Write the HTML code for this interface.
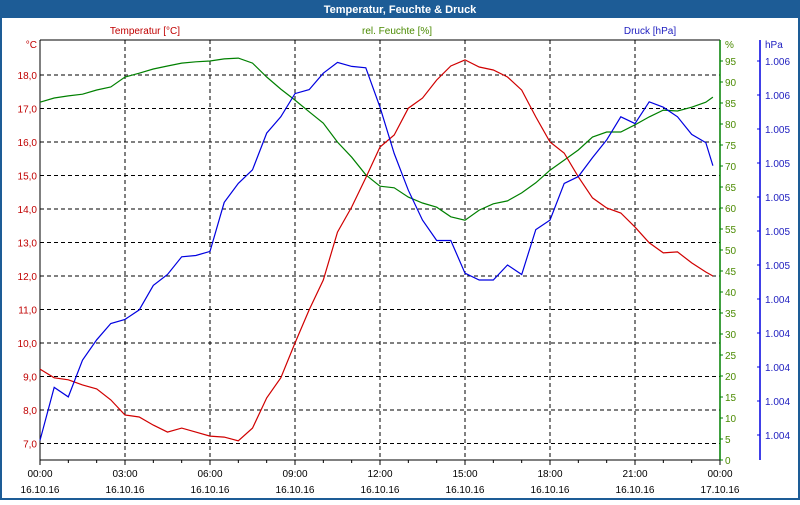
<!DOCTYPE html>
<html><head><meta charset="utf-8"><style>
body{margin:0;width:800px;height:500px;overflow:hidden;background:#fff;font-family:"Liberation Sans",sans-serif}
svg text{font-family:"Liberation Sans",sans-serif;font-size:10px}
</style></head><body>
<svg id="chart" width="800" height="500" xmlns="http://www.w3.org/2000/svg">
<rect x="0" y="0" width="800" height="500" fill="#1d5c96"/>
<rect x="2" y="18" width="796" height="480" fill="#fff"/>
<text x="400" y="13" text-anchor="middle" fill="#fff" font-weight="bold" style="font-size:11px">Temperatur, Feuchte &amp; Druck</text>
<text x="145" y="34" text-anchor="middle" fill="#c00000">Temperatur [°C]</text>
<text x="397" y="34" text-anchor="middle" fill="#4a8a00">rel. Feuchte [%]</text>
<text x="650" y="34" text-anchor="middle" fill="#2020c0">Druck [hPa]</text>
<g id="grid"></g>
<g id="axes"></g>
<g id="series"></g>
</svg>
<script>
const times=[0,0.5,1,1.5,2,2.5,3,3.5,4,4.5,5,5.5,6,6.5,7,7.5,8,8.5,9,9.5,10,10.5,11,11.5,12,12.5,13,13.5,14,14.5,15,15.5,16,16.5,17,17.5,18,18.5,19,19.5,20,20.5,21,21.5,22,22.5,23,23.5,23.75];
const temperature=[9.22,8.96,8.9,8.75,8.63,8.3,7.85,7.79,7.55,7.34,7.46,7.34,7.22,7.19,7.08,7.46,8.36,8.96,10.0,10.99,11.88,13.31,14.06,14.93,15.85,16.21,17.01,17.31,17.85,18.27,18.45,18.24,18.15,17.94,17.55,16.75,16.0,15.67,14.96,14.33,14.03,13.88,13.46,12.99,12.69,12.72,12.39,12.12,12.0];
const humidity=[85.2,86.2,86.7,87.1,88.1,88.8,91.2,92.1,93.1,93.8,94.5,94.8,95.0,95.5,95.7,94.5,91.2,88.3,85.7,82.9,80.2,75.7,72.1,67.9,65.2,64.8,62.6,61.2,60.2,57.9,57.1,59.5,61.0,61.7,63.6,66.0,69.0,71.4,73.8,76.9,78.1,78.1,79.8,81.7,83.3,83.1,84.0,85.2,86.4];
const pressure=[1003.41,1003.80,1003.73,1004.00,1004.15,1004.27,1004.30,1004.37,1004.55,1004.63,1004.76,1004.77,1004.80,1005.16,1005.30,1005.40,1005.67,1005.79,1005.96,1005.99,1006.11,1006.19,1006.16,1006.15,1005.86,1005.52,1005.25,1005.03,1004.88,1004.88,1004.64,1004.59,1004.59,1004.70,1004.63,1004.96,1005.03,1005.30,1005.35,1005.49,1005.62,1005.79,1005.74,1005.90,1005.86,1005.79,1005.66,1005.60,1005.43];
const tempTicks=[18,17,16,15,14,13,12,11,10,9,8,7];
const humTicks=[95,90,85,80,75,70,65,60,55,50,45,40,35,30,25,20,15,10,5,0];
const pressTicks=[1006.2,1005.95,1005.7,1005.45,1005.2,1004.95,1004.7,1004.45,1004.2,1003.95,1003.7,1003.45];
const pressLabels=["1.006","1.006","1.005","1.005","1.005","1.005","1.005","1.004","1.004","1.004","1.004","1.004"];
const xTickHours=[0,3,6,9,12,15,18,21,24];
const xTimeLabels=["00:00","03:00","06:00","09:00","12:00","15:00","18:00","21:00","00:00"];
const xDateLabels=["16.10.16","16.10.16","16.10.16","16.10.16","16.10.16","16.10.16","16.10.16","16.10.16","17.10.16"];

const L=40,R=720,T=40,B=460;
const xS=h=>L+h*(R-L)/24;
const yT=t=>75+(18-t)*33.5;
const yH=h=>B-h*(B-T)/100;
const yP=p=>61+(1006.2-p)*136;
const NS="http://www.w3.org/2000/svg";
function mk(tag,parent,attrs){const e=document.createElementNS(NS,tag);for(const k in attrs)e.setAttribute(k,attrs[k]);parent.appendChild(e);return e;}
const grid=document.getElementById('grid'),axes=document.getElementById('axes'),ser=document.getElementById('series');

tempTicks.forEach(t=>{
  const g=mk('line',grid,{x1:L,x2:R,y1:yT(t),y2:yT(t),stroke:'#000','stroke-dasharray':'4,3'});
  
  
  const l=mk('text',axes,{x:37,y:yT(t)+4,'text-anchor':'end',fill:'#c00000'});l.textContent=t.toFixed(1).replace('.',',');
  
  
});
xTickHours.forEach((h,i)=>{
  if(h>0&&h<24){const g=mk('line',grid,{x1:xS(h),x2:xS(h),y1:T,y2:B,stroke:'#000','stroke-dasharray':'4,3'});
  
  }
  const a=mk('text',axes,{x:xS(h),y:477,'text-anchor':'middle',fill:'#000'});a.textContent=xTimeLabels[i];
  
  
  const b=mk('text',axes,{x:xS(h),y:493,'text-anchor':'middle',fill:'#000'});b.textContent=xDateLabels[i];
  
  
});
for(let h=0;h<=24;h++){const t=mk('line',axes,{x1:xS(h),x2:xS(h),y1:B,y2:B+(h%3==0?5:3),stroke:'#000'});
  
  }
let a=mk('line',axes,{x1:L,x2:R,y1:T,y2:T,stroke:'#000'});
a=mk('line',axes,{x1:L,x2:L,y1:T,y2:B,stroke:'#000'});
a=mk('line',axes,{x1:L,x2:R,y1:B,y2:B,stroke:'#000'});
a=mk('line',axes,{x1:R,x2:R,y1:T,y2:B,stroke:'#008000','stroke-width':1.5});
a=mk('line',axes,{x1:760,x2:760,y1:T,y2:B,stroke:'#0000e0','stroke-width':1.5});
a=mk('text',axes,{x:37,y:48,'text-anchor':'end',fill:'#c00000'});a.textContent='°C';
a=mk('text',axes,{x:725,y:48,fill:'#4a8a00'});a.textContent='%';
a=mk('text',axes,{x:765,y:48,fill:'#2020c0'});a.textContent='hPa';
humTicks.forEach(h=>{
  const t=mk('line',axes,{x1:R,x2:R+3,y1:yH(h),y2:yH(h),stroke:'#008000'});
  
  
  const l=mk('text',axes,{x:725,y:yH(h)+4,fill:'#4a8a00'});l.textContent=h;
  
  
});
pressTicks.forEach((p,i)=>{
  const t=mk('line',axes,{x1:757,x2:760,y1:yP(p),y2:yP(p),stroke:'#0000e0'});
  
  
  const l=mk('text',axes,{x:765,y:yP(p)+4,fill:'#2020c0'});l.textContent=pressLabels[i];
  
  
});
function line(vals,yf,color,name){
  const pts=vals.map((v,i)=>xS(times[i]).toFixed(1)+','+yf(v).toFixed(1)).join(' ');
  const p=mk('polyline',ser,{points:pts,fill:'none',stroke:color,'stroke-width':1.2});
  
  
}
line(humidity,yH,'#008000','humidity-line');
line(temperature,yT,'#d00000','temperature-line');
line(pressure,yP,'#0000e0','pressure-line');
</script>
</body></html>
